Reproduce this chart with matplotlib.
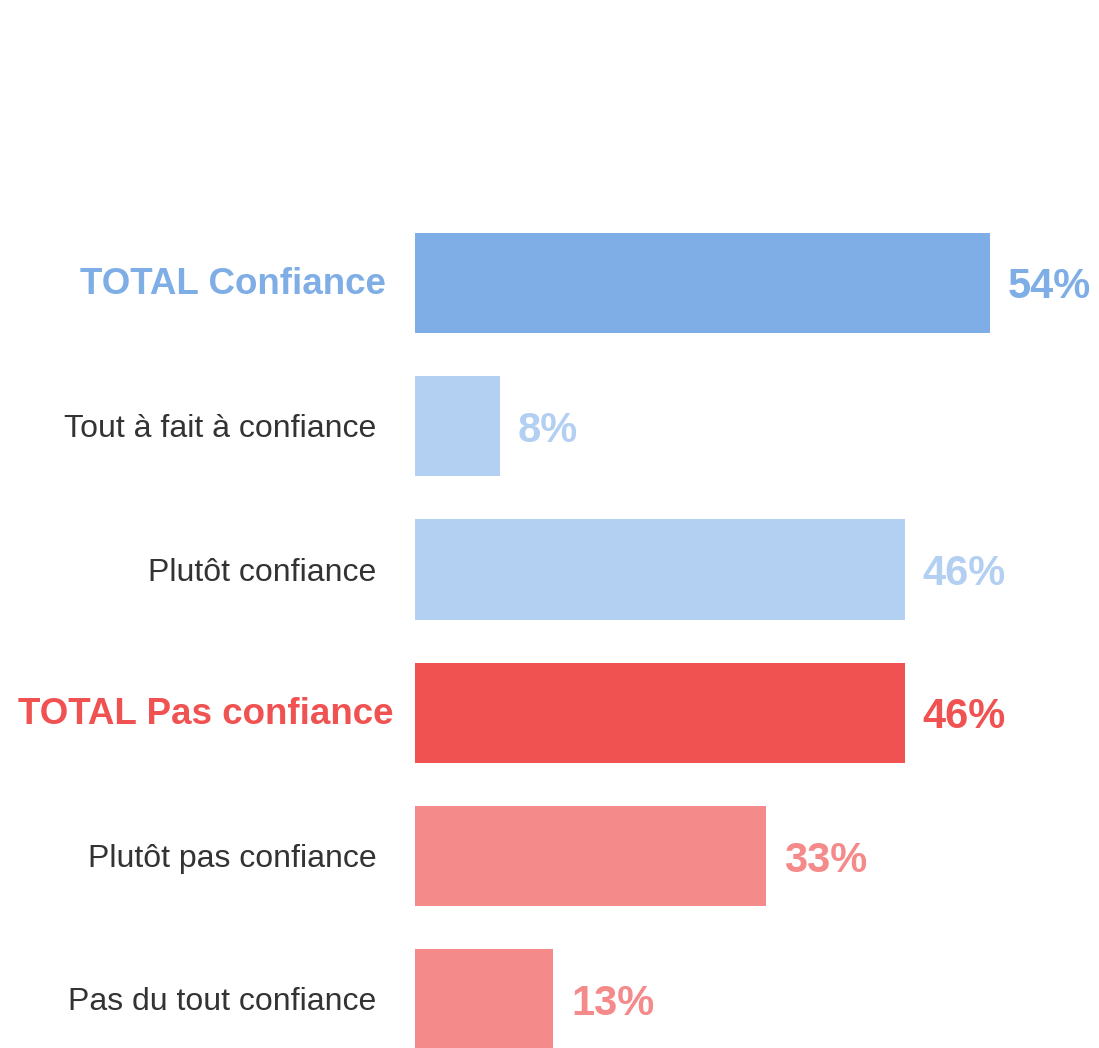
import matplotlib.pyplot as plt

plt.rcParams['font.family'] = ['Liberation Sans', 'DejaVu Sans']

labels = ['TOTAL Confiance', 'Tout à fait à confiance', 'Plutôt confiance',
          'TOTAL Pas confiance', 'Plutôt pas confiance', 'Pas du tout confiance']
values = [54, 8, 46, 46, 33, 13]
is_total = [True, False, False, True, False, False]
colors = ['#7FAEE6', '#B3CFF2', '#B3CFF2', '#F05151', '#F58A8A', '#F58A8A']

fig = plt.figure(figsize=(10.99, 10.48), dpi=100)
ax = fig.add_axes([0, 0, 1, 1])

ypos = list(range(len(values)))
ax.barh(ypos, values, height=0.7, color=colors)

for y, lab, v, tot, c in zip(ypos, labels, values, is_total, colors):
    if tot:
        ax.text(-2.75 if v == 54 else -2.0, y + 0.01, lab, ha='right', va='center',
                fontsize=26.5, fontweight='bold', color=c)
    else:
        ax.text(-3.6, y + 0.02, lab, ha='right', va='center', fontsize=23, color='#333333')
    ax.text(v + 1.65, y + 0.03, f'{v}%', ha='left', va='center',
            fontsize=30, fontweight='bold', color=c)

ax.set_xlim(-38.97, 64.23)
ax.set_ylim(5.338, -1.975)
ax.axis('off')

plt.savefig('out.png', dpi=100)
